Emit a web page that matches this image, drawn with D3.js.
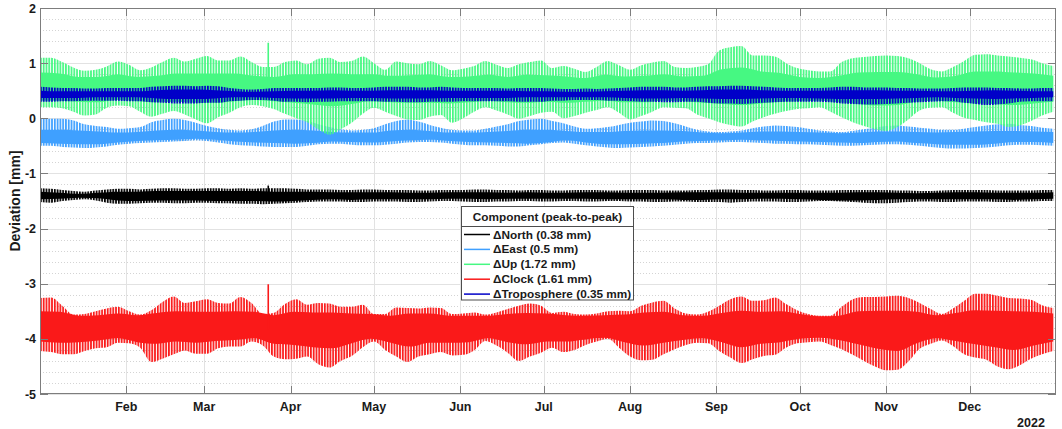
<!DOCTYPE html>
<html>
<head>
<meta charset="utf-8">
<script src="https://cdn.jsdelivr.net/npm/d3@7"></script>
<style>
  body { margin: 0; background: #fff; }
  svg { display: block; }
  text { font-family: "Liberation Sans", Arial, Helvetica, sans-serif; font-weight: bold; fill: #1a1a1a; }
</style>
</head>
<body>
<svg id="chart" width="1062" height="429"></svg>
<script>
// ---- axis definitions ----
const yearStart = Date.UTC(2022, 0, 1);
const yearEnd = Date.UTC(2023, 0, 1);
const yTicks = [2, 1, 0, -1, -2, -3, -4, -5];
const yearLabel = "2022";
const yLabel = "Deviation [mm]";
const legendTitle = "Component (peak-to-peak)";

// ---- components ----
const seriesLabels = ["\u0394North (0.38 mm)", "\u0394East (0.5 mm)", "\u0394Up (1.72 mm)", "\u0394Clock (1.61 mm)", "\u0394Troposphere (0.35 mm)"];
const seriesColors = ["#000000", "#3fa0ff", "#46f882", "#fa1919", "#0000c8"];

// Envelope of the daily excursions (max / min), one sample every 4 days from 1 Jan
const envelopeStep = 4;
const northHi = [-1.27,-1.28,-1.30,-1.32,-1.33,-1.31,-1.29,-1.28,-1.28,-1.29,
  -1.28,-1.27,-1.27,-1.28,-1.28,-1.27,-1.27,-1.28,-1.27,-1.28,
  -1.27,-1.27,-1.27,-1.28,-1.29,-1.29,-1.29,-1.30,-1.30,-1.29,
  -1.29,-1.30,-1.30,-1.30,-1.31,-1.31,-1.30,-1.30,-1.30,-1.29,
  -1.29,-1.30,-1.30,-1.31,-1.30,-1.30,
  -1.31,-1.31,-1.30,-1.30,-1.30,-1.31,-1.31,-1.30,-1.30,-1.30,
  -1.31,-1.31,-1.31,-1.30,-1.30,-1.29,-1.29,-1.30,-1.30,-1.31,
  -1.31,-1.30,-1.30,-1.31,-1.31,-1.31,-1.30,-1.30,-1.30,-1.30,
  -1.30,-1.31,-1.31,-1.32,-1.32,-1.31,-1.30,-1.30,-1.30,-1.30,
  -1.31,-1.31,-1.31,-1.31,-1.30,-1.30];
const northLo = [-1.52,-1.53,-1.50,-1.48,-1.47,-1.49,-1.53,-1.55,-1.55,-1.54,
  -1.53,-1.53,-1.54,-1.54,-1.53,-1.53,-1.54,-1.54,-1.55,-1.55,
  -1.56,-1.55,-1.54,-1.53,-1.52,-1.51,-1.51,-1.51,-1.52,-1.52,
  -1.51,-1.51,-1.51,-1.52,-1.52,-1.51,-1.50,-1.50,-1.51,-1.52,
  -1.52,-1.51,-1.51,-1.50,-1.50,-1.51,
  -1.51,-1.50,-1.50,-1.51,-1.51,-1.50,-1.50,-1.51,-1.51,-1.52,
  -1.52,-1.51,-1.51,-1.52,-1.52,-1.52,-1.53,-1.52,-1.51,-1.51,
  -1.51,-1.52,-1.52,-1.51,-1.50,-1.50,-1.51,-1.52,-1.53,-1.54,
  -1.54,-1.53,-1.52,-1.51,-1.51,-1.52,-1.52,-1.51,-1.51,-1.51,
  -1.52,-1.52,-1.51,-1.51,-1.50,-1.50];
const eastHi = [-0.01,-0.01,-0.01,-0.04,-0.11,-0.14,-0.16,-0.19,-0.18,-0.16,
  -0.07,-0.03,-0.01,-0.03,-0.08,-0.14,-0.18,-0.21,-0.22,-0.20,
  -0.14,-0.06,-0.02,-0.02,-0.05,-0.11,-0.16,-0.20,-0.22,-0.21,
  -0.18,-0.11,-0.05,-0.02,-0.06,-0.12,-0.17,-0.21,-0.22,-0.22,
  -0.19,-0.15,-0.11,-0.05,-0.02,-0.01,
  -0.05,-0.09,-0.15,-0.19,-0.18,-0.16,-0.12,-0.08,-0.06,-0.04,
  -0.05,-0.09,-0.15,-0.21,-0.24,-0.25,-0.24,-0.22,-0.18,-0.15,
  -0.13,-0.14,-0.16,-0.19,-0.22,-0.24,-0.25,-0.23,-0.20,-0.17,
  -0.14,-0.13,-0.15,-0.17,-0.19,-0.21,-0.21,-0.19,-0.16,-0.13,
  -0.11,-0.10,-0.12,-0.14,-0.17,-0.19];
const eastLo = [-0.50,-0.50,-0.52,-0.53,-0.54,-0.53,-0.51,-0.48,-0.46,-0.45,
  -0.44,-0.43,-0.42,-0.41,-0.40,-0.41,-0.44,-0.47,-0.49,-0.50,
  -0.51,-0.52,-0.52,-0.52,-0.50,-0.47,-0.46,-0.46,-0.48,-0.49,
  -0.49,-0.48,-0.46,-0.44,-0.43,-0.43,-0.44,-0.46,-0.48,-0.49,
  -0.49,-0.50,-0.51,-0.51,-0.49,-0.47,
  -0.45,-0.44,-0.46,-0.49,-0.51,-0.53,-0.54,-0.53,-0.52,-0.51,
  -0.50,-0.48,-0.46,-0.45,-0.45,-0.44,-0.43,-0.43,-0.44,-0.45,
  -0.46,-0.46,-0.47,-0.47,-0.48,-0.49,-0.50,-0.50,-0.49,-0.48,
  -0.47,-0.47,-0.48,-0.50,-0.52,-0.54,-0.55,-0.55,-0.54,-0.53,
  -0.51,-0.49,-0.48,-0.48,-0.49,-0.50];
const upHi = [1.10,1.10,1.02,0.92,0.86,0.88,0.94,1.03,0.97,0.87,
  0.92,1.02,1.10,1.03,1.08,1.13,1.05,1.05,1.12,1.02,
  0.93,0.93,1.02,1.05,0.98,1.08,1.10,1.02,1.04,1.12,
  1.00,0.88,1.03,1.00,0.98,1.04,0.96,0.87,0.90,0.95,
  1.04,0.97,0.91,0.98,1.02,1.05,
  0.91,0.95,0.90,0.84,0.93,1.04,0.96,0.88,0.96,1.01,
  1.04,0.93,0.91,0.93,0.98,1.23,1.29,1.31,1.14,1.14,
  1.12,1.00,0.91,0.87,0.85,0.85,1.02,1.09,1.11,1.13,
  1.14,1.13,1.09,1.00,0.89,0.85,0.93,1.04,1.15,1.16,
  1.14,1.12,1.10,1.07,1.00,0.95];
const upLo = [0.20,0.20,0.18,0.12,0.05,0.07,0.19,0.23,0.22,0.12,
  0.03,0.08,0.13,0.07,-0.02,-0.09,0.02,0.10,0.20,0.24,
  0.22,0.17,0.08,0.00,-0.07,-0.20,-0.30,-0.20,-0.08,0.08,
  0.19,0.12,0.04,-0.02,-0.03,0.03,0.06,-0.08,0.00,0.12,
  0.20,0.14,0.07,-0.01,0.04,0.10,
  0.12,0.00,0.04,0.10,0.15,0.20,0.10,-0.02,0.04,0.12,
  0.20,0.19,0.18,0.07,0.00,-0.07,-0.12,-0.15,-0.06,0.02,
  0.08,0.13,0.17,0.18,0.20,0.12,0.02,-0.07,-0.14,-0.20,
  -0.23,-0.16,-0.02,0.14,0.19,0.20,0.10,0.01,-0.03,-0.07,
  -0.10,-0.16,-0.13,-0.05,0.05,0.12];
const clockHi = [-3.26,-3.25,-3.40,-3.56,-3.55,-3.50,-3.45,-3.42,-3.50,-3.56,
  -3.48,-3.33,-3.23,-3.35,-3.32,-3.28,-3.35,-3.36,-3.24,-3.35,
  -3.55,-3.53,-3.37,-3.28,-3.38,-3.35,-3.36,-3.42,-3.42,-3.38,
  -3.55,-3.55,-3.43,-3.44,-3.45,-3.43,-3.44,-3.55,-3.54,-3.52,
  -3.56,-3.52,-3.46,-3.40,-3.36,-3.40,
  -3.53,-3.51,-3.55,-3.56,-3.54,-3.50,-3.49,-3.50,-3.40,-3.34,
  -3.31,-3.45,-3.54,-3.56,-3.51,-3.40,-3.28,-3.23,-3.31,-3.30,
  -3.25,-3.37,-3.48,-3.55,-3.58,-3.58,-3.42,-3.28,-3.24,-3.24,
  -3.23,-3.22,-3.26,-3.35,-3.46,-3.55,-3.45,-3.31,-3.18,-3.18,
  -3.22,-3.26,-3.27,-3.29,-3.39,-3.44];
const clockLo = [-4.22,-4.24,-4.28,-4.28,-4.22,-4.17,-4.15,-4.07,-4.08,-4.16,
  -4.42,-4.36,-4.28,-4.21,-4.27,-4.27,-4.17,-4.14,-4.14,-4.05,
  -4.12,-4.32,-4.37,-4.36,-4.32,-4.46,-4.52,-4.40,-4.31,-4.15,
  -4.05,-4.20,-4.32,-4.42,-4.32,-4.28,-4.24,-4.30,-4.29,-4.21,
  -4.04,-4.12,-4.25,-4.40,-4.32,-4.25,
  -4.16,-4.24,-4.20,-4.11,-4.05,-4.00,-4.16,-4.32,-4.39,-4.38,
  -4.28,-4.19,-4.11,-4.07,-4.08,-4.22,-4.34,-4.44,-4.37,-4.31,
  -4.29,-4.16,-4.08,-4.06,-4.05,-4.11,-4.19,-4.29,-4.40,-4.50,
  -4.57,-4.56,-4.41,-4.18,-4.09,-4.03,-4.13,-4.28,-4.34,-4.38,
  -4.50,-4.55,-4.48,-4.36,-4.28,-4.22];
const tropoHi = [0.57,0.56,0.55,0.55,0.54,0.54,0.55,0.55,0.55,0.55,
  0.57,0.58,0.59,0.59,0.58,0.59,0.58,0.55,0.53,0.52,
  0.53,0.55,0.55,0.55,0.55,0.55,0.56,0.56,0.55,0.55,
  0.56,0.57,0.57,0.57,0.56,0.56,0.57,0.56,0.55,0.55,
  0.55,0.55,0.54,0.55,0.55,0.55,
  0.54,0.53,0.53,0.54,0.53,0.54,0.55,0.56,0.57,0.57,
  0.57,0.56,0.56,0.57,0.58,0.58,0.59,0.59,0.58,0.57,
  0.56,0.55,0.55,0.55,0.55,0.56,0.57,0.57,0.56,0.56,
  0.56,0.55,0.55,0.54,0.54,0.54,0.55,0.56,0.56,0.56,
  0.55,0.55,0.54,0.54,0.55,0.55];
const tropoLo = [0.30,0.30,0.31,0.31,0.32,0.32,0.32,0.32,0.31,0.31,
  0.29,0.28,0.27,0.27,0.27,0.28,0.28,0.31,0.32,0.33,
  0.33,0.32,0.30,0.30,0.29,0.30,0.30,0.31,0.31,0.31,
  0.31,0.30,0.30,0.29,0.29,0.30,0.30,0.30,0.31,0.31,
  0.31,0.31,0.31,0.30,0.30,0.30,
  0.32,0.32,0.33,0.33,0.33,0.32,0.32,0.31,0.30,0.30,
  0.29,0.29,0.30,0.30,0.28,0.27,0.27,0.26,0.27,0.28,
  0.29,0.30,0.30,0.30,0.30,0.29,0.27,0.26,0.25,0.25,
  0.26,0.27,0.28,0.29,0.30,0.31,0.31,0.28,0.26,0.24,
  0.25,0.27,0.30,0.31,0.31,0.31];

// Dense core of each component, one sample per week from 1 Jan
const coreStep = 7;
const northCoreHi = [-1.33,-1.35,-1.37,-1.35,-1.33,-1.33,-1.32,-1.32,-1.32,-1.32,
  -1.32,-1.32,-1.33,-1.33,-1.33,-1.34,-1.34,-1.34,-1.34,-1.35,
  -1.35,-1.34,-1.34,-1.34,-1.35,-1.34,-1.35,-1.35,-1.34,-1.34,
  -1.35,-1.35,-1.35,-1.34,-1.34,-1.34,-1.35,-1.35,-1.35,-1.35,
  -1.35,-1.35,-1.34,-1.34,-1.35,-1.36,-1.35,-1.34,-1.34,-1.35,
  -1.35,-1.35,-1.34];
const northCoreLo = [-1.47,-1.46,-1.44,-1.45,-1.49,-1.50,-1.49,-1.49,-1.49,-1.50,
  -1.50,-1.50,-1.51,-1.50,-1.48,-1.47,-1.48,-1.47,-1.47,-1.47,
  -1.47,-1.46,-1.46,-1.47,-1.46,-1.46,-1.46,-1.46,-1.46,-1.47,
  -1.47,-1.47,-1.47,-1.48,-1.48,-1.47,-1.47,-1.46,-1.46,-1.47,
  -1.48,-1.49,-1.49,-1.48,-1.47,-1.47,-1.47,-1.47,-1.47,-1.47,
  -1.48,-1.47,-1.46];
const eastCoreHi = [-0.21,-0.21,-0.22,-0.24,-0.26,-0.25,-0.22,-0.21,-0.22,-0.25,
  -0.26,-0.25,-0.22,-0.21,-0.22,-0.25,-0.26,-0.26,-0.22,-0.21,
  -0.23,-0.26,-0.26,-0.25,-0.23,-0.21,-0.21,-0.23,-0.25,-0.25,
  -0.23,-0.22,-0.22,-0.23,-0.26,-0.27,-0.26,-0.24,-0.24,-0.25,
  -0.26,-0.27,-0.26,-0.24,-0.24,-0.25,-0.26,-0.25,-0.24,-0.23,
  -0.23,-0.24,-0.25];
const eastCoreLo = [-0.45,-0.46,-0.47,-0.47,-0.44,-0.41,-0.40,-0.39,-0.37,-0.39,
  -0.42,-0.44,-0.45,-0.46,-0.45,-0.42,-0.43,-0.44,-0.42,-0.40,
  -0.39,-0.41,-0.43,-0.44,-0.45,-0.46,-0.44,-0.40,-0.44,-0.47,
  -0.47,-0.46,-0.45,-0.42,-0.41,-0.40,-0.39,-0.40,-0.41,-0.42,
  -0.43,-0.44,-0.45,-0.43,-0.42,-0.45,-0.47,-0.48,-0.48,-0.46,
  -0.43,-0.43,-0.45];
const upCoreHi = [0.83,0.81,0.75,0.75,0.80,0.75,0.77,0.81,0.81,0.81,
  0.81,0.77,0.75,0.80,0.80,0.81,0.80,0.80,0.77,0.78,
  0.80,0.75,0.76,0.79,0.75,0.79,0.78,0.76,0.73,0.79,
  0.76,0.77,0.80,0.76,0.77,0.89,0.92,0.85,0.82,0.75,
  0.73,0.77,0.83,0.84,0.84,0.80,0.74,0.77,0.85,0.85,
  0.83,0.81,0.77];
const upCoreLo = [0.32,0.32,0.30,0.29,0.33,0.31,0.29,0.30,0.28,0.28,
  0.31,0.33,0.31,0.28,0.25,0.22,0.26,0.31,0.29,0.28,
  0.28,0.27,0.29,0.32,0.29,0.28,0.30,0.28,0.30,0.32,
  0.29,0.29,0.32,0.31,0.28,0.26,0.24,0.27,0.30,0.31,
  0.32,0.29,0.26,0.23,0.24,0.30,0.32,0.29,0.27,0.26,
  0.24,0.27,0.30];
const clockCoreHi = [-3.50,-3.51,-3.58,-3.57,-3.54,-3.57,-3.53,-3.50,-3.51,-3.51,
  -3.50,-3.51,-3.57,-3.51,-3.52,-3.52,-3.54,-3.55,-3.58,-3.54,
  -3.54,-3.58,-3.58,-3.58,-3.55,-3.53,-3.54,-3.57,-3.58,-3.57,
  -3.56,-3.52,-3.51,-3.57,-3.58,-3.53,-3.49,-3.51,-3.50,-3.55,
  -3.59,-3.58,-3.50,-3.49,-3.49,-3.51,-3.57,-3.53,-3.48,-3.49,
  -3.50,-3.51,-3.54];
const clockCoreLo = [-4.05,-4.07,-4.06,-4.03,-3.99,-4.06,-4.09,-4.05,-4.07,-4.04,
  -4.02,-3.99,-4.09,-4.11,-4.15,-4.17,-4.08,-4.00,-4.07,-4.14,
  -4.07,-4.07,-4.06,-3.99,-4.06,-4.10,-4.05,-4.05,-4.01,-3.98,
  -4.06,-4.12,-4.07,-4.02,-3.99,-4.06,-4.15,-4.09,-4.06,-4.00,
  -3.98,-4.02,-4.10,-4.18,-4.22,-4.08,-3.99,-4.04,-4.10,-4.15,
  -4.20,-4.12,-4.05];
const tropoCoreHi = [0.50,0.49,0.49,0.49,0.49,0.49,0.51,0.52,0.52,0.51,
  0.49,0.48,0.49,0.50,0.50,0.51,0.50,0.50,0.51,0.51,
  0.51,0.50,0.50,0.50,0.50,0.49,0.49,0.48,0.48,0.49,
  0.50,0.51,0.51,0.50,0.51,0.52,0.52,0.51,0.50,0.50,
  0.50,0.51,0.51,0.51,0.50,0.50,0.49,0.49,0.50,0.51,
  0.50,0.49,0.49];
const tropoCoreLo = [0.37,0.37,0.37,0.38,0.38,0.38,0.36,0.35,0.35,0.36,
  0.38,0.38,0.37,0.36,0.36,0.36,0.37,0.37,0.36,0.36,
  0.36,0.37,0.37,0.37,0.37,0.38,0.38,0.38,0.38,0.38,
  0.37,0.36,0.36,0.37,0.36,0.35,0.35,0.36,0.37,0.37,
  0.36,0.35,0.35,0.35,0.36,0.37,0.38,0.37,0.36,0.35,
  0.36,0.37,0.38];

// Single-epoch outlier on 24 March (component index, peak value)
const outlierDate = "2022-03-24";
const outlierSeries = [0, 2, 3];
const outlierPeaks = [-1.22, 1.37, -3.01];

// ---- layout ----
const W = 1062, H = 429;
const plot = { left: 40, right: 1056, top: 8, bottom: 394 };
const svg = d3.select("#chart");
svg.append("rect").attr("width", W).attr("height", H).attr("fill", "#fff");

const x = d3.scaleUtc().domain([yearStart, yearEnd]).range([plot.left, plot.right]);
const y = d3.scaleLinear().domain([-5, 2]).range([plot.bottom, plot.top]);
const dayToDate = d => new Date(yearStart + d * 864e5);

const defs = svg.append("defs");
defs.append("clipPath").attr("id", "plotClip").append("rect")
  .attr("x", plot.left).attr("y", plot.top)
  .attr("width", plot.right - plot.left).attr("height", plot.bottom - plot.top);

// ---- grid ----
const grid = svg.append("g");
const minorVals = d3.range(-50, 21, 2).map(v => v / 10).filter(v => Math.abs(v - Math.round(v)) > 1e-6);
grid.selectAll(".minor").data(minorVals).join("line")
  .attr("x1", plot.left).attr("x2", plot.right)
  .attr("y1", d => Math.round(y(d)) + 0.5).attr("y2", d => Math.round(y(d)) + 0.5)
  .attr("stroke", "#d4d4d4").attr("stroke-dasharray", "1,2");
grid.selectAll(".majorY").data(yTicks).join("line")
  .attr("x1", plot.left).attr("x2", plot.right)
  .attr("y1", d => Math.round(y(d)) + 0.5).attr("y2", d => Math.round(y(d)) + 0.5)
  .attr("stroke", "#e2e2e2");
const monthTicks = d3.utcMonth.range(Date.UTC(2022, 1, 1), yearEnd);
grid.selectAll(".majorX").data(monthTicks).join("line")
  .attr("x1", d => Math.round(x(d)) + 0.5).attr("x2", d => Math.round(x(d)) + 0.5)
  .attr("y1", plot.top).attr("y2", plot.bottom)
  .attr("stroke", "#e2e2e2");

// ---- data bands ----
const envDays = d3.range(0, 365, envelopeStep);
const coreDays = d3.range(0, 365, coreStep);
const dayW = x(dayToDate(1)) - x(dayToDate(0));

const components = [
  { hi: northHi, lo: northLo, cHi: northCoreHi, cLo: northCoreLo },
  { hi: eastHi, lo: eastLo, cHi: eastCoreHi, cLo: eastCoreLo },
  { hi: upHi, lo: upLo, cHi: upCoreHi, cLo: upCoreLo },
  { hi: clockHi, lo: clockLo, cHi: clockCoreHi, cLo: clockCoreLo },
  { hi: tropoHi, lo: tropoLo, cHi: tropoCoreHi, cLo: tropoCoreLo }
];

const area = d3.area()
  .x(d => x(d.t)).y0(d => y(d.lo)).y1(d => y(d.hi))
  .curve(d3.curveMonotoneX);

const dataLayer = svg.append("g").attr("clip-path", "url(#plotClip)");
components.forEach((c, i) => {
  const color = seriesColors[i];
  // daily excursions rendered as a vertical stroke per day
  const pat = defs.append("pattern").attr("id", "daily" + i)
    .attr("patternUnits", "userSpaceOnUse")
    .attr("x", x(dayToDate(0))).attr("y", 0)
    .attr("width", dayW).attr("height", H);
  pat.append("rect").attr("x", 0).attr("y", 0).attr("width", 1.75).attr("height", H).attr("fill", color);

  const env = envDays.map((d, k) => ({ t: dayToDate(d), hi: c.hi[k], lo: c.lo[k] }));
  const core = coreDays.map((d, k) => ({ t: dayToDate(d), hi: c.cHi[k], lo: c.cLo[k] }));

  dataLayer.append("path").datum(env).attr("d", area).attr("fill", `url(#daily${i})`);
  dataLayer.append("path").datum(core).attr("d", area).attr("fill", color);

  // outlier epoch
  outlierSeries.forEach((s, j) => {
    if (s !== i) return;
    const t = new Date(outlierDate + "T00:00:00Z");
    const k = Math.round((t - yearStart) / 864e5 / coreStep);
    const base = (c.cHi[k] + c.cLo[k]) / 2;
    dataLayer.append("line")
      .attr("x1", x(t)).attr("x2", x(t))
      .attr("y1", y(base)).attr("y2", y(outlierPeaks[j]))
      .attr("stroke", color).attr("stroke-width", 1.6);
  });
});

// ---- axes box and ticks ----
const axisColor = "#7d7d7d";
const axes = svg.append("g").attr("stroke", axisColor).attr("fill", "none");
axes.append("rect")
  .attr("x", plot.left + 0.5).attr("y", plot.top + 0.5)
  .attr("width", plot.right - plot.left - 1).attr("height", plot.bottom - plot.top - 1);
const tickLen = 8;
yTicks.forEach(v => {
  const yy = Math.round(y(v)) + 0.5;
  axes.append("line").attr("x1", plot.left).attr("x2", plot.left + tickLen).attr("y1", yy).attr("y2", yy);
  axes.append("line").attr("x1", plot.right).attr("x2", plot.right - tickLen).attr("y1", yy).attr("y2", yy);
});
monthTicks.forEach(m => {
  const xx = Math.round(x(m)) + 0.5;
  axes.append("line").attr("x1", xx).attr("x2", xx).attr("y1", plot.bottom).attr("y2", plot.bottom - tickLen);
  axes.append("line").attr("x1", xx).attr("x2", xx).attr("y1", plot.top).attr("y2", plot.top + tickLen);
});

// ---- tick labels ----
const labels = svg.append("g");
labels.selectAll(".yl").data(yTicks).join("text")
  .attr("x", 36).attr("y", d => y(d) + 4.5)
  .attr("text-anchor", "end").attr("font-size", 12.5)
  .text(d => d);
const fmtMonth = d3.utcFormat("%b");
labels.selectAll(".xl").data(monthTicks).join("text")
  .attr("x", d => x(d)).attr("y", 411)
  .attr("text-anchor", "middle").attr("font-size", 12.5)
  .text(d => fmtMonth(d));
labels.append("text").attr("x", 1031).attr("y", 427)
  .attr("text-anchor", "middle").attr("font-size", 12.5).text(yearLabel);
labels.append("text")
  .attr("transform", `translate(20,${(plot.top + plot.bottom) / 2}) rotate(-90)`)
  .attr("text-anchor", "middle").attr("font-size", 14).text(yLabel);

// ---- legend ----
const lg = svg.append("g");
const lx = 461.5, ly = 206.5, lw = 172, lh = 93.5;
lg.append("rect").attr("x", lx).attr("y", ly).attr("width", lw).attr("height", lh)
  .attr("fill", "#fff").attr("stroke", "#4d4d4d");
lg.append("line").attr("x1", lx).attr("x2", lx + lw).attr("y1", 226.5).attr("y2", 226.5).attr("stroke", "#4d4d4d");
lg.append("text").attr("x", lx + lw / 2).attr("y", 221).attr("text-anchor", "middle")
  .attr("font-size", 11.8).text(legendTitle);
seriesLabels.forEach((name, i) => {
  const yy = 234.5 + i * 14.9;
  lg.append("line").attr("x1", 464).attr("x2", 490).attr("y1", yy).attr("y2", yy)
    .attr("stroke", seriesColors[i]).attr("stroke-width", 1.5);
  lg.append("text").attr("x", 493).attr("y", yy + 4).attr("font-size", 11.8).text(name);
});
</script>
</body>
</html>
